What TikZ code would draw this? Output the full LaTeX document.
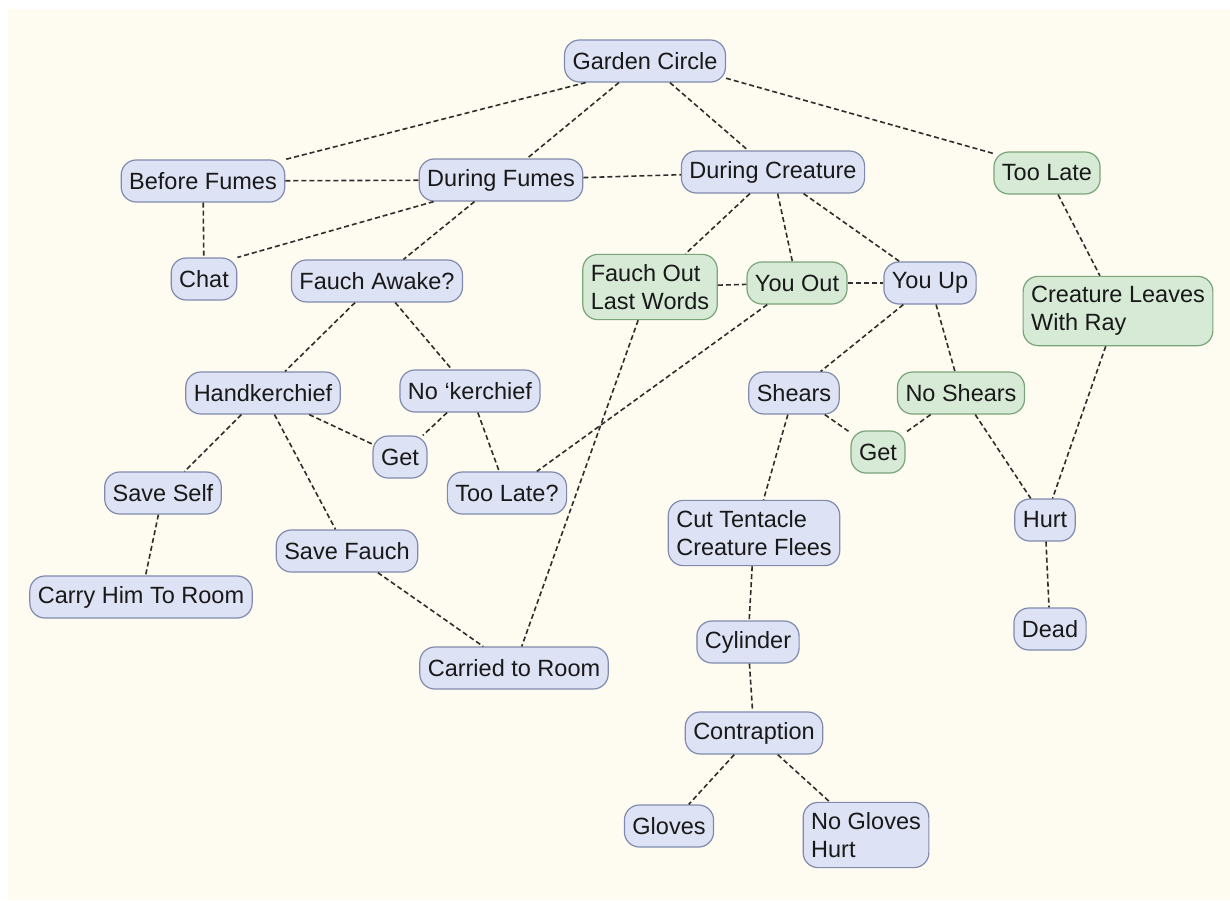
\documentclass[tikz,border=0pt]{standalone}
\usepackage{fontspec}
\setmainfont{Liberation Sans}
\definecolor{bgcream}{RGB}{254,252,240}
\definecolor{bluefill}{RGB}{221,227,244}
\definecolor{blueline}{RGB}{128,138,172}
\definecolor{greenfill}{RGB}{214,234,214}
\definecolor{greenline}{RGB}{122,164,122}
\definecolor{edgecol}{RGB}{45,45,45}
\begin{document}
\begin{tikzpicture}[x=1pt,y=-1pt,
  every node/.style={font=\fontsize{23.5}{28}\selectfont, text=black!90},
  bnode/.style={draw=blueline, fill=bluefill, line width=1.2pt, rounded corners=15pt,
    minimum height=42pt, inner xsep=8pt, inner ysep=10pt, align=left},
  gnode/.style={bnode, draw=greenline, fill=greenfill},
  link/.style={draw=edgecol, line width=1.6pt, dash pattern=on 5pt off 3pt}]
\useasboundingbox (0,0) rectangle (1230,900);
\fill[white] (0,0) rectangle (1230,900);
\fill[bgcream] (8,9) rectangle (1230,900);

\node[bnode] (gc) at (645,61) {Garden Circle};
\node[bnode] (bf) at (203,181) {Before Fumes};
\node[bnode] (df) at (501,180) {During Fumes};
\node[bnode] (dc) at (773,172) {During Creature};
\node[gnode] (tl) at (1047,173) {Too Late};
\node[bnode] (chat) at (204,279) {Chat};
\node[bnode] (fa) at (377,281) {Fauch Awake?};
\node[gnode] (fo) at (650,287) {Fauch Out\\Last Words};
\node[gnode] (yo) at (797,283) {You Out};
\node[bnode] (yu) at (930,283) {You Up};
\node[gnode] (cl) at (1118,311) {Creature Leaves\\With Ray};
\node[bnode] (hk) at (263,393) {Handkerchief};
\node[bnode] (nk) at (470,391) {No ‘kerchief};
\node[bnode] (get1) at (400,457) {Get};
\node[bnode] (tlq) at (507,493) {Too Late?};
\node[bnode] (sh) at (794,393) {Shears};
\node[gnode] (ns) at (961,393) {No Shears};
\node[gnode] (get2) at (878,452) {Get};
\node[bnode] (ss) at (163,493) {Save Self};
\node[bnode] (sf) at (347,551) {Save Fauch};
\node[bnode] (ch) at (141,597) {Carry Him To Room};
\node[bnode] (hurt) at (1045,520) {Hurt};
\node[bnode] (ct) at (754,533) {Cut Tentacle\\Creature Flees};
\node[bnode] (dead) at (1050,629) {Dead};
\node[bnode] (cr) at (514,668) {Carried to Room};
\node[bnode] (cyl) at (748,642) {Cylinder};
\node[bnode] (con) at (754,733) {Contraption};
\node[bnode] (gl) at (669,826) {Gloves};
\node[bnode] (ng) at (866,835) {No Gloves\\Hurt};

\draw[link] (gc.200) -- (bf.north east);
\draw[link] (gc) -- (df);
\draw[link] (gc) -- (dc);
\draw[link] (gc.-12) -- (tl.160);
\draw[link] (bf) -- (df);
\draw[link] (df) -- (dc);
\draw[link] (bf) -- (chat);
\draw[link] (df.south west) ++(15,0) coordinate (dfsw);
\draw[link] (dfsw) -- (chat.north east);
\draw[link] (df) -- (fa);
\draw[link] (dc) -- (fo);
\draw[link] (dc) -- (yo);
\draw[link] (dc) -- (yu);
\draw[link] (fo) -- (yo);
\draw[link] (yo) -- (yu);
\draw[link] (tl) -- (cl);
\draw[link] (fa) -- (hk);
\draw[link] (fa) -- (nk);
\draw[link] (yo) -- (tlq);
\draw[link] (fo) -- (cr);
\draw[link] (yu) -- (sh);
\draw[link] (yu) -- (ns);
\draw[link] (cl) -- (hurt);
\draw[link] (hk) -- (get1);
\draw[link] (nk) -- (get1);
\draw[link] (nk) -- (tlq);
\draw[link] (hk) -- (ss);
\draw[link] (hk) -- (sf);
\draw[link] (sh) -- (get2);
\draw[link] (ns) -- (get2);
\draw[link] (ns) -- (hurt);
\draw[link] (sh) -- (ct);
\draw[link] (ss) -- (ch);
\draw[link] (sf) -- (cr);
\draw[link] (hurt) -- (dead);
\draw[link] (ct) -- (cyl);
\draw[link] (cyl) -- (con);
\draw[link] (con) -- (gl);
\draw[link] (con) -- (ng);
\end{tikzpicture}
\end{document}
